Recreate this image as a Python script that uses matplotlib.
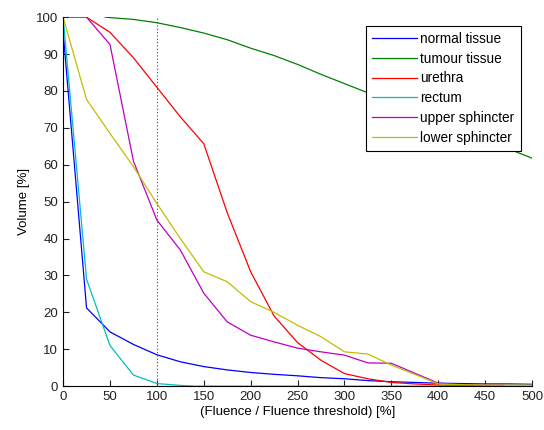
import numpy as np
import matplotlib.pyplot as plt

# fluence / threshold [%] sampled every 25
x_normal = [0, 25, 50, 75, 100, 125, 150, 175, 200, 225, 250, 275, 300, 325, 350, 375, 400, 425, 450, 475, 500]
normal = [96, 21.2, 14.7, 11.3, 8.5, 6.6, 5.3, 4.4, 3.7, 3.2, 2.8, 2.3, 2.0, 1.5, 1.2, 1.0, 0.8, 0.7, 0.6, 0.6, 0.5]

x_tumour = [45, 75, 100, 125, 150, 175, 200, 225, 250, 275, 300, 325, 350, 375, 400, 425, 450, 475, 500]
tumour = [100, 99.4, 98.5, 97.2, 95.7, 93.9, 91.6, 89.6, 87.2, 84.5, 82.0, 79.5, 76.8, 74.0, 71.5, 69.0, 66.8, 64.3, 61.8]

x_urethra = [8, 25, 50, 75, 100, 125, 150, 175, 200, 225, 250, 275, 300, 325, 350, 375, 400, 425, 450]
urethra = [100, 100, 95.9, 89, 81, 73, 65.7, 47, 31, 19, 11.8, 7, 3.4, 2.0, 1.0, 0.6, 0.3, 0.2, 0.1]

x_rectum = [0, 25, 50, 75, 100, 125, 140, 200, 300, 400, 500]
rectum = [100, 29, 11, 3, 0.7, 0.2, 0, 0, 0, 0, 0]

x_upper = [25, 50, 75, 100, 125, 150, 175, 200, 225, 250, 275, 300, 325, 350, 375, 400, 425, 450, 470]
upper = [100, 92.6, 61, 45, 36.9, 25.2, 17.4, 13.8, 12, 10.3, 9.3, 8.4, 6.3, 6.2, 3.5, 0.8, 0.4, 0.3, 0.3]

x_lower = [0, 25, 50, 75, 100, 125, 150, 175, 200, 225, 250, 275, 300, 325, 350, 375, 400, 425, 450, 475, 500]
lower = [100, 77.7, 68.5, 59.5, 49.5, 40, 31, 28.3, 22.9, 20, 16.5, 13.4, 9.3, 8.7, 5.7, 3.2, 0.6, 0.4, 0.3, 0.3, 0.3]

labels = ['normal tissue', 'tumour tissue', 'urethra', 'rectum', 'upper sphincter', 'lower sphincter']
colors = [(0, 0, 1), (0, 0.5, 0), (1, 0, 0), (0, 0.75, 0.75), (0.75, 0, 0.75), (0.75, 0.75, 0)]

plt.rcParams['font.family'] = ['Liberation Sans', 'DejaVu Sans']

fig = plt.figure(figsize=(5.44, 4.30), dpi=100)
ax = fig.add_axes([0.116, 0.102, 0.862, 0.858])

series = [(x_normal, normal), (x_tumour, tumour), (x_urethra, urethra),
          (x_rectum, rectum), (x_upper, upper), (x_lower, lower)]
for (xs, ys), lab, c in zip(series, labels, colors):
    ax.plot(xs, ys, color=c, lw=0.9, label=lab)

ax.plot([100, 100], [0, 100], color='#444444', lw=0.8, ls=(0, (1, 2)))

ax.set_xlim(0, 500)
ax.set_ylim(0, 100)
ax.set_xticks(np.arange(0, 501, 50))
ax.set_yticks(np.arange(0, 101, 10))
ax.tick_params(direction='in', length=4, labelsize=9.5, colors='#222222')
for s in ['top', 'right']:
    ax.spines[s].set_visible(False)
ax.set_xlabel('(Fluence / Fluence threshold) [%]', fontsize=9.5, labelpad=2)
ax.set_ylabel('Volume [%]', fontsize=9.5)

leg = ax.legend(loc='upper right', bbox_to_anchor=(0.99, 0.995), fontsize=9.8,
                fancybox=False, edgecolor='black', framealpha=1,
                handlelength=3.3, borderpad=0.45, labelspacing=0.42, handletextpad=0.25)
leg.get_frame().set_linewidth(0.8)

fig.savefig('out.png', dpi=100)
